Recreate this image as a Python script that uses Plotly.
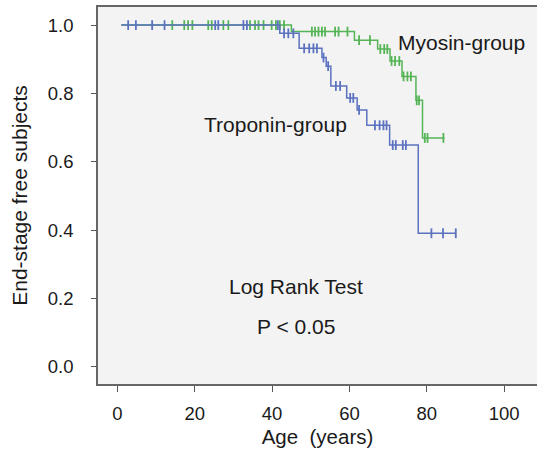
import plotly.graph_objects as go

# Troponin-group (blue): step times and survival levels
trop_times = [1, 42.0, 47.0, 52.9, 54.0, 55.2, 59.3, 62.0, 64.5, 70.4, 77.8, 87.5]
trop_surv = [1.0, 0.976, 0.932, 0.905, 0.880, 0.822, 0.787, 0.752, 0.707, 0.649, 0.391, 0.391]
trop_cens = [2.8, 4.8, 9.0, 12.2, 25.3, 26.1, 32.6, 33.5, 41.5,
             43.1, 44.2, 45.5, 48.3, 49.6, 50.7, 51.6, 53.3, 54.5, 56.5, 57.6,
             60.2, 61.0, 62.5, 66.6, 67.8, 68.8, 69.6, 71.2, 72.0, 73.8, 74.6,
             81.2, 84.2, 87.5]

# Myosin-group (green)
myo_times = [1, 45.0, 61.3, 67.3, 70.5, 73.6, 77.2, 78.9, 84.6]
myo_surv = [1.0, 0.981, 0.956, 0.930, 0.895, 0.850, 0.780, 0.670, 0.670]
myo_cens = [14.2, 17.3, 18.3, 19.4, 23.5, 24.4, 27.4, 28.7, 34.3, 35.6, 36.5, 37.8,
            39.9, 41.0, 42.0, 43.1,
            50.3, 51.1, 52.0, 52.9, 53.7, 56.3, 57.2, 59.5, 62.5, 65.3,
            68.0, 69.0, 69.8, 70.9, 71.8, 72.9, 74.0, 75.0, 75.9, 77.4, 78.0,
            79.5, 80.2, 84.3]

x_ticks = [0, 20, 40, 60, 80, 100]
y_ticks = [0.0, 0.2, 0.4, 0.6, 0.8, 1.0]

BLUE = "#5b72c0"
GREEN = "#55b455"


def level_at(times, surv, t):
    val = surv[0]
    for ti, si in zip(times, surv):
        if t >= ti:
            val = si
    return val


fig = go.Figure()
for times, surv, cens, col in [(myo_times, myo_surv, myo_cens, GREEN),
                               (trop_times, trop_surv, trop_cens, BLUE)]:
    fig.add_trace(go.Scatter(x=times, y=surv, mode="lines", line_shape="hv",
                             line=dict(color=col, width=1.5), showlegend=False,
                             hoverinfo="skip"))
    fig.add_trace(go.Scatter(x=cens, y=[level_at(times, surv, t) for t in cens],
                             mode="markers",
                             marker=dict(symbol="line-ns", size=7,
                                         line=dict(color=col, width=1.8)),
                             showlegend=False))

font_fam = "Arial, Liberation Sans, sans-serif"
annots = [
    ("Myosin-group", 89.1, 0.95),
    ("Troponin-group", 40.8, 0.708),
    ("Log Rank Test", 46.2, 0.234),
    ("P < 0.05", 46.2, 0.117),
]
for txt, ax_, ay_ in annots:
    fig.add_annotation(x=ax_, y=ay_, text=txt, showarrow=False,
                       font=dict(size=21, color="#1a1a1a", family=font_fam))

fig.update_layout(
    width=537, height=456,
    margin=dict(l=98, r=0, t=7, b=72),
    paper_bgcolor="white", plot_bgcolor="#f3f3f3",
    font=dict(family=font_fam, size=18.5, color="#1a1a1a"),
    xaxis=dict(range=[-5, 108.5], tickvals=x_ticks, ticks="outside", ticklen=6,
               tickcolor="#555", showline=True, linecolor="#666", linewidth=1.5,
               mirror=True, showgrid=False, zeroline=False,
               title=dict(text="Age\u00a0\u00a0(years)", standoff=7, font=dict(size=20.5)),
               ticklabelstandoff=6),
    yaxis=dict(range=[-0.05, 1.053], tickvals=y_ticks, tickformat=".1f",
               ticks="outside", ticklen=5, tickcolor="#555", showline=True,
               linecolor="#666", linewidth=1.5, showgrid=False, zeroline=False,
               title=dict(text="End-stage free subjects", standoff=14,
                          font=dict(size=21)),
               ticklabelstandoff=14),
)

fig.write_html("out.html", config={"displayModeBar": False},
               post_script="document.body.style.margin='0';")
